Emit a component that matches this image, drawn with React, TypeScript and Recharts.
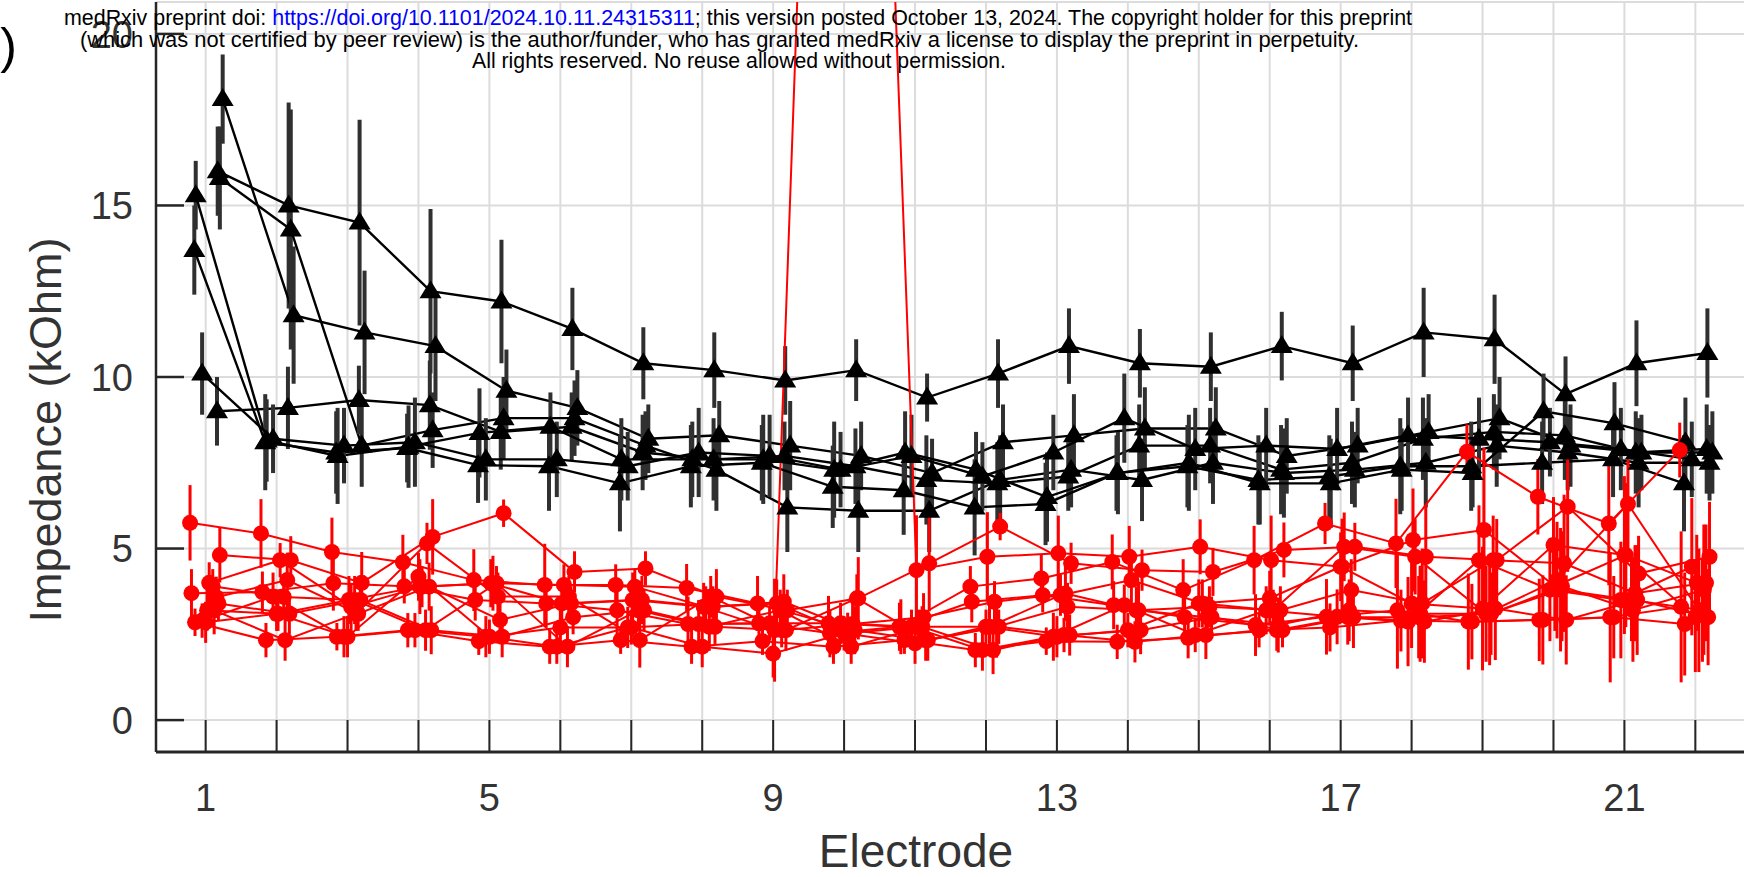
import React from "react";
import { ComposedChart, Line, XAxis, YAxis, CartesianGrid, ErrorBar } from "recharts";

const FONT = '"Liberation Sans", Arial, sans-serif';
const AXIS = "#262626";
const GRID = "#dcdcdc";
const RED = "#ff0000";

const electrodes = [1, 2, 3, 4, 5, 6, 7, 8, 9, 10, 11, 12, 13, 14, 15, 16, 17, 18, 19, 20, 21, 22];
const xTickLabels = [1, 5, 9, 13, 17, 21];
const yTicks = [0, 5, 10, 15, 20];

// black series (triangles): horizontal jitter per series, values, error half-widths
const blackOffsets = [0.17, 0.24, 0.2, 0.16, -0.14, -0.16, -0.05];
const blackA = [16.0, 15.0, 14.5, 12.5, 12.2, 11.4, 10.4, 10.2, 9.9, 10.2, 9.4, 10.1, 10.9, 10.4, 10.3, 10.9, 10.4, 11.3, 11.1, 9.5, 10.4, 10.7];
const blackAErr = [1.3, 3.0, 3.0, 2.4, 1.8, 1.2, 1.05, 1.1, 1.0, 0.9, 0.7, 1.0, 1.1, 1.0, 1.0, 1.0, 1.1, 1.3, 1.3, 1.1, 1.25, 1.3];
const blackB = [18.1, 11.8, 11.3, 10.9, 9.6, 9.1, 8.2, 8.3, 8.0, 7.7, 7.2, 8.1, 8.3, 8.5, 8.5, 7.7, 8.0, 8.4, 8.8, 8.0, 7.8, 7.8];
const blackBErr = [1.3, 2.0, 1.8, 1.6, 1.2, 1.1, 1.0, 1.0, 1.3, 1.0, 1.0, 1.1, 1.2, 1.2, 1.2, 1.1, 1.1, 1.1, 1.2, 1.2, 1.1, 1.2];
const blackC = [15.8, 14.3, 8.0, 8.45, 8.8, 8.8, 8.0, 7.3, 6.2, 6.1, 6.1, 7.0, 7.3, 7.0, 7.5, 7.2, 7.3, 7.5, 8.0, 7.8, 7.5, 7.5];
const blackCErr = [1.5, 3.5, 1.2, 1.1, 1.2, 1.1, 1.0, 1.2, 1.3, 1.2, 1.2, 1.3, 1.1, 1.2, 1.2, 1.3, 1.1, 1.3, 1.2, 1.1, 1.3, 1.1];
const blackD = [9.0, 9.1, 9.33, 9.18, 8.4, 8.55, 7.8, 7.6, 7.7, 7.4, 7.0, 6.9, 7.1, 8.0, 8.0, 7.3, 7.5, 8.2, 8.4, 8.3, 7.8, 7.9];
const blackDErr = [1.0, 1.2, 1.0, 1.3, 1.1, 1.0, 1.1, 1.2, 1.0, 1.1, 1.3, 1.2, 1.0, 1.2, 1.1, 1.3, 1.2, 1.2, 1.1, 1.3, 1.2, 1.3];
const blackE = [15.3, 8.15, 7.7, 7.97, 8.37, 8.55, 7.6, 7.6, 7.6, 7.3, 7.8, 7.3, 6.5, 7.2, 7.5, 6.9, 6.9, 7.3, 7.2, 9.0, 8.65, 8.1];
const blackEErr = [1.0, 1.2, 1.4, 1.2, 1.3, 1.0, 1.2, 1.1, 1.3, 1.4, 1.2, 1.1, 1.3, 1.2, 1.4, 1.2, 1.3, 1.2, 1.0, 1.1, 1.2, 1.3];
const blackF = [13.7, 8.1, 7.8, 7.93, 7.43, 7.4, 6.9, 7.4, 7.5, 6.8, 6.7, 6.2, 6.3, 7.2, 7.4, 7.0, 7.1, 7.4, 7.4, 7.5, 7.6, 6.9];
const blackFErr = [1.3, 1.4, 1.2, 1.0, 1.1, 1.3, 1.4, 1.2, 1.1, 1.2, 1.3, 1.4, 1.2, 1.1, 1.2, 1.3, 1.2, 1.4, 1.3, 1.2, 1.1, 1.4];
const blackG = [10.1, 8.2, 8.0, 8.1, 7.6, 7.6, 7.4, 7.8, 7.7, 7.3, 7.7, 7.1, 7.8, 8.8, 7.9, 8.0, 7.9, 8.3, 8.2, 8.1, 7.9, 7.6];
const blackGErr = [1.2, 1.0, 1.1, 1.3, 1.2, 1.1, 1.0, 1.3, 1.2, 1.1, 1.2, 1.0, 1.1, 1.3, 1.2, 1.1, 1.2, 1.1, 1.2, 1.0, 1.2, 1.1];

// red series (circles)
const redOffsets = [-0.22, 0.2, 0.02, -0.2, 0.15, 0.1, 0.0, 0.12, -0.05, 0.05, 0.18, -0.15];
const red1 = [5.75, 5.44, 4.9, 4.6, 4.08, 3.94, 3.94, 3.85, 3.4, 2.82, 2.72, 3.89, 4.13, 4.61, 3.79, 4.66, 5.73, 5.15, 7.82, 6.51, 5.73, 7.87];
const red1Err = [1.1, 1.0, 1.0, 0.8, 0.9, 1.2, 0.6, 0.7, 0.8, 0.8, 0.7, 0.6, 0.7, 0.8, 0.9, 1.0, 0.6, 1.3, 0.8, 1.1, 1.8, 0.8];
const red2 = [4.81, 4.66, 4.0, 5.34, 6.03, 4.32, 4.42, 3.6, 3.2, 3.55, 4.57, 5.64, 4.57, 4.37, 4.32, 4.96, 5.05, 4.76, 4.66, 6.22, 4.27, 4.76];
const red2Err = [0.8, 0.7, 0.9, 1.1, 0.4, 0.6, 0.5, 0.8, 0.6, 1.2, 1.4, 0.4, 0.6, 0.6, 0.7, 0.8, 0.7, 1.5, 1.2, 1.9, 1.1, 1.6];
const red3 = [3.2, 3.1, 3.5, 3.89, 3.99, 3.4, 3.5, 3.3, 2.62, 60, 4.37, 4.76, 4.86, 4.76, 5.05, 4.66, 4.47, 5.25, 5.54, 3.9, 4.81, 4.0];
const red3Err = [0.6, 0.5, 0.7, 0.8, 0.7, 0.6, 0.8, 0.7, 1.5, 1.0, 1.6, 1.3, 1.1, 0.9, 0.8, 1.3, 1.4, 1.5, 2.4, 1.3, 2.1, 1.4];
const red4 = [3.7, 3.73, 3.99, 3.9, 3.5, 3.4, 3.2, 2.8, 2.82, 2.53, 2.72, 3.45, 3.64, 3.35, 3.0, 2.77, 3.01, 3.2, 2.87, 2.92, 3.0, 3.3];
const red4Err = [0.7, 0.6, 0.8, 0.5, 0.6, 0.7, 0.9, 0.8, 0.6, 0.7, 0.8, 0.6, 0.5, 0.7, 0.8, 0.9, 1.1, 1.7, 1.4, 1.2, 1.9, 2.2];
const red5 = [3.58, 4.08, 3.1, 3.89, 2.92, 3.4, 3.5, 3.3, 3.45, 2.62, 2.33, 2.72, 3.3, 3.2, 3.3, 3.2, 3.79, 3.4, 4.66, 4.57, 3.7, 4.0];
const red5Err = [0.6, 0.8, 0.5, 0.7, 0.6, 0.5, 0.7, 0.6, 0.8, 0.7, 0.6, 0.9, 0.7, 0.8, 0.6, 0.7, 0.9, 1.6, 1.3, 2.0, 1.4, 1.7];
const red6 = [3.9, 3.59, 3.5, 2.62, 3.99, 2.14, 3.2, 2.72, 3.2, 2.14, 2.72, 2.04, 2.48, 2.28, 2.48, 2.62, 3.0, 3.0, 3.1, 3.8, 3.5, 3.2];
const red6Err = [0.5, 0.6, 0.7, 0.6, 0.5, 0.6, 0.5, 0.7, 0.6, 0.5, 0.6, 0.7, 0.5, 0.6, 0.7, 0.6, 0.8, 1.2, 1.5, 1.8, 1.2, 1.5];
const red7 = [2.85, 3.1, 2.43, 4.18, 2.43, 2.7, 2.7, 2.14, 1.94, 2.53, 2.24, 2.72, 2.43, 2.62, 3.4, 3.55, 4.47, 3.4, 3.25, 5.1, 4.81, 3.0];
const red7Err = [0.6, 0.5, 0.6, 0.7, 0.5, 0.6, 0.5, 0.6, 0.7, 0.5, 0.6, 0.5, 0.6, 0.5, 0.7, 0.8, 1.0, 1.3, 1.8, 1.4, 2.3, 1.6];
const red8 = [3.2, 2.33, 3.1, 5.15, 3.6, 3.6, 2.33, 3.6, 2.62, 2.8, 3.0, 3.45, 3.69, 3.2, 3.0, 2.77, 3.2, 3.1, 3.1, 3.9, 3.2, 3.8];
const red8Err = [0.7, 0.6, 0.5, 0.6, 0.7, 0.6, 0.8, 0.6, 0.5, 0.6, 0.7, 0.6, 0.8, 0.7, 0.6, 0.8, 0.9, 1.4, 1.2, 1.6, 1.5, 1.9];
const red9 = [2.9, 3.6, 2.43, 2.62, 2.43, 2.14, 2.7, 2.8, 2.82, 2.82, 2.72, 2.04, 2.43, 3.35, 2.48, 3.2, 3.01, 2.87, 4.66, 3.8, 3.5, 4.47];
const red9Err = [0.5, 0.7, 0.6, 0.5, 0.6, 0.5, 0.6, 0.7, 0.5, 0.6, 0.5, 0.6, 0.7, 0.6, 0.5, 0.7, 0.8, 1.3, 1.6, 1.5, 1.7, 2.0];
const red10 = [4.0, 4.66, 3.3, 3.89, 3.99, 3.94, 3.89, 3.3, 3.4, 2.53, 2.72, 2.72, 3.64, 4.08, 3.4, 3.2, 5.05, 4.76, 3.1, 4.08, 6.3, 3.2];
const red10Err = [0.6, 0.5, 0.7, 0.6, 0.8, 0.6, 0.5, 0.6, 0.7, 0.6, 0.5, 0.7, 0.6, 0.8, 0.7, 0.6, 1.0, 1.1, 1.4, 1.7, 1.3, 1.8];
const red11 = [3.4, 3.1, 3.5, 2.62, 2.43, 3.0, 3.2, 2.72, 2.62, 3.55, 2.33, 2.72, 2.48, 2.62, 3.0, 2.62, 3.0, 2.87, 3.25, 2.92, 3.5, 3.0];
const red11Err = [0.5, 0.6, 0.5, 0.7, 0.6, 0.5, 0.6, 0.5, 0.6, 0.7, 0.6, 0.5, 0.6, 0.7, 0.6, 0.5, 0.9, 1.2, 1.5, 1.3, 1.6, 1.4];
const red12 = [2.85, 2.33, 2.43, 2.62, 2.3, 2.14, 2.33, 2.14, 2.3, 2.14, 2.33, 2.04, 2.3, 2.28, 2.4, 2.62, 2.7, 2.9, 2.87, 2.92, 3.0, 2.8];
const red12Err = [0.4, 0.5, 0.4, 0.5, 0.4, 0.5, 0.4, 0.5, 0.4, 0.5, 0.4, 0.5, 0.4, 0.5, 0.6, 0.5, 0.7, 0.9, 1.1, 1.3, 1.2, 1.5];

const toPoints = (vals: number[], errs: number[], off: number) =>
  vals.map((v, i) => ({ x: electrodes[i] + off, y: v, err: errs[i] }));

const blackSeries = [
  [blackA, blackAErr], [blackB, blackBErr], [blackC, blackCErr], [blackD, blackDErr],
  [blackE, blackEErr], [blackF, blackFErr], [blackG, blackGErr],
].map(([v, e], i) => toPoints(v, e, blackOffsets[i]));

const redSeries = [
  [red1, red1Err], [red2, red2Err], [red3, red3Err], [red4, red4Err], [red5, red5Err], [red6, red6Err],
  [red7, red7Err], [red8, red8Err], [red9, red9Err], [red10, red10Err], [red11, red11Err], [red12, red12Err],
].map(([v, e], i) => toPoints(v, e, redOffsets[i]));

const triangleDot = (props: any) => {
  const { cx, cy, index } = props;
  if (cx == null || cy == null) return <g key={index} />;
  return <path key={index} d={`M${cx},${cy - 11}L${cx + 11},${cy + 7}L${cx - 11},${cy + 7}Z`} fill="#000" />;
};

const BottomTick = (props: any) => {
  const { x, y, payload } = props;
  return (
    <g>
      <line x1={x} x2={x} y1={y} y2={y - 32} stroke={AXIS} strokeWidth={2} />
      {xTickLabels.includes(payload.value) && (
        <text x={x} y={y + 59} textAnchor="middle" fontSize={38} fill="#333" fontFamily={FONT}>
          {payload.value}
        </text>
      )}
    </g>
  );
};

const TopTick = (props: any) => {
  const { x, y } = props;
  return <line x1={x} x2={x} y1={y} y2={y + 32} stroke={AXIS} strokeWidth={2} />;
};

const LeftTick = (props: any) => {
  const { x, y, payload } = props;
  return (
    <g>
      <line x1={x} x2={x + 28} y1={y} y2={y} stroke={AXIS} strokeWidth={2.5} />
      <text x={x - 23} y={y} dy="0.36em" textAnchor="end" fontSize={38} fill="#333" fontFamily={FONT}>
        {payload.value}
      </text>
    </g>
  );
};

const RightTick = (props: any) => {
  const { x, y } = props;
  return <line x1={x} x2={x - 28} y1={y} y2={y} stroke={AXIS} strokeWidth={2.5} />;
};

export default function App() {
  return (
    <div style={{ position: "absolute", left: 0, top: 0, width: 1744, height: 877, overflow: "hidden", background: "#fff" }}>
      <ComposedChart width={1760} height={877} margin={{ top: 2, right: 15, bottom: 0, left: 0 }}>
        <CartesianGrid stroke={GRID} strokeWidth={2} />
        <XAxis
          type="number"
          dataKey="x"
          domain={[0.3, 22.7]}
          allowDataOverflow
          ticks={electrodes}
          interval={0}
          height={125}
          tickSize={0}
          tickMargin={0}
          tickLine={false}
          tick={BottomTick}
          axisLine={{ stroke: AXIS, strokeWidth: 3 }}
        />
        <XAxis
          xAxisId="top"
          orientation="top"
          type="number"
          dataKey="x"
          domain={[0.3, 22.7]}
          allowDataOverflow
          ticks={electrodes}
          interval={0}
          height={0}
          tickSize={0}
          tickMargin={0}
          tickLine={false}
          tick={TopTick}
          axisLine={{ stroke: AXIS, strokeWidth: 3 }}
        />
        <YAxis
          type="number"
          domain={[-0.93, 20.93]}
          allowDataOverflow
          ticks={yTicks}
          interval={0}
          width={156}
          tickSize={0}
          tickMargin={0}
          tickLine={false}
          tick={LeftTick}
          axisLine={{ stroke: AXIS, strokeWidth: 2.5 }}
        />
        <YAxis
          yAxisId="right"
          orientation="right"
          type="number"
          domain={[-0.93, 20.93]}
          allowDataOverflow
          ticks={yTicks}
          interval={0}
          width={0}
          tickSize={0}
          tickMargin={0}
          tickLine={false}
          tick={RightTick}
          axisLine={{ stroke: AXIS, strokeWidth: 2.5 }}
        />
        {blackSeries.map((s, i) => (
          <Line
            key={"b" + i}
            data={s}
            dataKey="y"
            type="linear"
            stroke="#000"
            strokeWidth={2.4}
            dot={triangleDot}
            activeDot={false}
            isAnimationActive={false}
          >
            <ErrorBar dataKey="err" direction="y" width={0} stroke="#303030" strokeWidth={4} />
          </Line>
        ))}
        {redSeries.map((s, i) => (
          <Line
            key={"r" + i}
            data={s}
            dataKey="y"
            type="linear"
            stroke={RED}
            strokeWidth={2}
            dot={{ r: 8, fill: RED, stroke: RED, strokeWidth: 0 }}
            activeDot={false}
            isAnimationActive={false}
          >
            <ErrorBar dataKey="err" direction="y" width={0} stroke={RED} strokeWidth={3} />
          </Line>
        ))}
      </ComposedChart>
      <svg
        width={1744}
        height={877}
        style={{ position: "absolute", left: 0, top: 0, pointerEvents: "none" }}
        fontFamily={FONT}
      >
        <text x={17} y={63} textAnchor="end" fontSize={50} fill="#000">A)</text>
        <text x={64} y={25} fontSize={21.5} fill="#000" textLength={1348} lengthAdjust="spacingAndGlyphs">
          medRxiv preprint doi: <tspan fill="#0000ff">https://doi.org/10.1101/2024.10.11.24315311</tspan>; this version posted October 13, 2024. The copyright holder for this preprint
        </text>
        <text x={80} y={46.5} fontSize={21.5} fill="#000" textLength={1279} lengthAdjust="spacingAndGlyphs">
          (which was not certified by peer review) is the author/funder, who has granted medRxiv a license to display the preprint in perpetuity.
        </text>
        <text x={472} y={68} fontSize={21.5} fill="#000" textLength={534} lengthAdjust="spacingAndGlyphs">
          All rights reserved. No reuse allowed without permission.
        </text>
        <text x={916} y={867} textAnchor="middle" fontSize={46} fill="#333">Electrode</text>
        <text transform="translate(61,430) rotate(-90)" textAnchor="middle" fontSize={45} fill="#333">
          Impedance (kOhm)
        </text>
      </svg>
    </div>
  );
}
